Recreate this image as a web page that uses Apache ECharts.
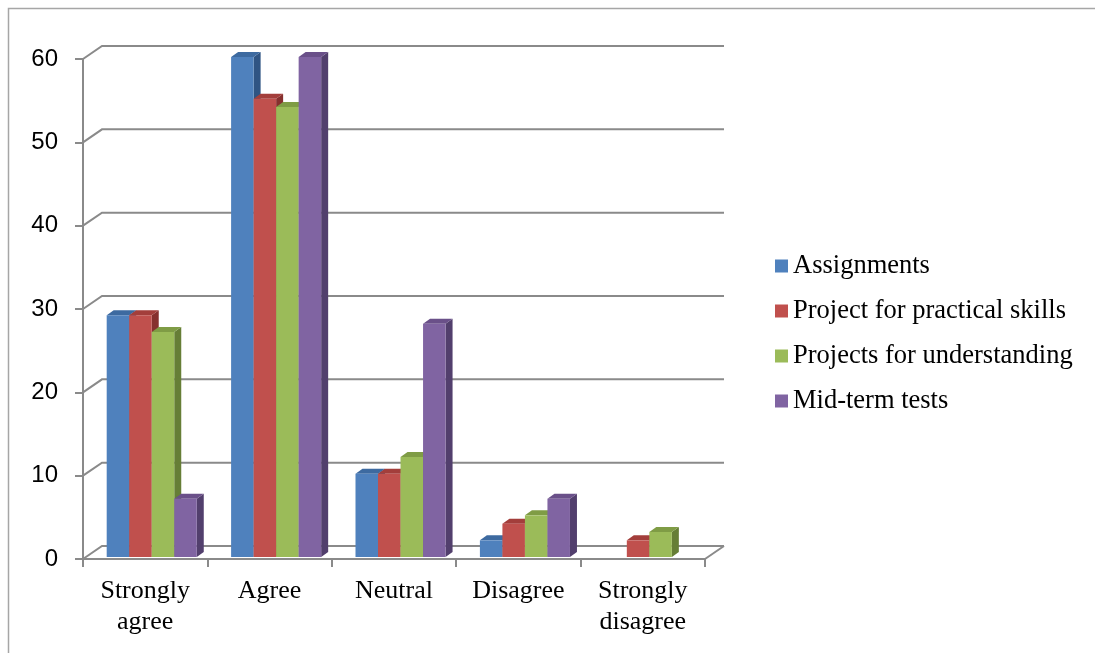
<!DOCTYPE html>
<html>
<head>
<meta charset="utf-8">
<script src="https://cdn.jsdelivr.net/npm/echarts@6/dist/echarts.min.js"></script>
<style>
  html, body { margin: 0; padding: 0; background: #ffffff; }
  #chart { width: 1095px; height: 653px; }
</style>
</head>
<body>
<div id="chart"></div>
<script>
// Survey answers per assessment type
const categories = ['Strongly\nagree', 'Agree', 'Neutral', 'Disagree', 'Strongly\ndisagree'];
const seriesNames = ['Assignments', 'Project for practical skills', 'Projects for understanding', 'Mid-term tests'];
const assignments = [29, 60, 10, 2, 0];
const practicalSkills = [29, 55, 10, 4, 2];
const understanding = [27, 54, 12, 5, 3];
const midTermTests = [7, 60, 28, 7, 0];
const yTicks = [0, 10, 20, 30, 40, 50, 60];

// face colours: front, top, side
const palette = [
  ['#4F81BD', '#3D6AA0', '#2F5483'],
  ['#C0504D', '#A33E3B', '#86302E'],
  ['#9BBB59', '#7F9C45', '#667E36'],
  ['#8064A2', '#6A5089', '#523F6D']
];

// depth of the wall/floor and of each column
const WALL_DX = 19, WALL_DY = -13;
const BAR_DX = 7, BAR_DY = -5;
const LINE = '#8a8a8a';

function barSeries(name, values, idx) {
  const c = palette[idx];
  return {
    name: name,
    type: 'custom',
    z: 3,
    itemStyle: { color: c[0] },
    data: values.map((v, i) => [i, v]),
    encode: { x: 0, y: 1 },
    renderItem: function (params, api) {
      const v = api.value(1);
      if (!v) return null;
      const band = api.size([1, 0])[0];
      const center = api.coord([api.value(0), 0]);
      const topPt = api.coord([api.value(0), v]);
      const w = band * 0.181;
      const left = center[0] - band * 0.3095 + idx * w;
      const bottom = center[1] - 2;
      const top = topPt[1] - 2;
      const right = left + w;
      return {
        type: 'group',
        children: [
          { type: 'polygon', shape: { points: [[right, top], [right + BAR_DX, top + BAR_DY], [right + BAR_DX, bottom + BAR_DY], [right, bottom]] },
            style: { fill: c[2] } },
          { type: 'polygon', shape: { points: [[left, top], [left + BAR_DX, top + BAR_DY], [right + BAR_DX, top + BAR_DY], [right, top]] },
            style: { fill: c[1] } },
          { type: 'rect', shape: { x: left, y: top, width: w, height: bottom - top },
            style: { fill: c[0] } }
        ]
      };
    }
  };
}

// back wall gridlines, side-wall diagonals and floor edge
const wallSeries = {
  type: 'custom',
  silent: true,
  z: 1,
  data: yTicks.map(t => [0, t]),
  encode: { x: 0, y: 1 },
  renderItem: function (params, api) {
    const cs = params.coordSys;
    const y = api.coord([0, api.value(1)])[1];
    const x0 = cs.x, x1 = cs.x + cs.width;
    const children = [
      { type: 'polyline', shape: { points: [[x0, y], [x0 + WALL_DX, y + WALL_DY], [x1 + WALL_DX, y + WALL_DY]] },
        style: { stroke: LINE, lineWidth: 2, fill: null } }
    ];
    if (api.value(1) === 0) {
      children.push({ type: 'line', shape: { x1: x1, y1: y, x2: x1 + WALL_DX, y2: y + WALL_DY },
        style: { stroke: LINE, lineWidth: 2 } });
    }
    return { type: 'group', children: children };
  }
};

const chart = echarts.init(document.getElementById('chart'));
chart.setOption({
  animation: false,
  backgroundColor: '#ffffff',
  graphic: [{
    type: 'rect', z: 0, silent: true,
    shape: { x: 8.5, y: 8.5, width: 1120, height: 700 },
    style: { fill: null, stroke: '#a6a6a6', lineWidth: 1.5 }
  }],
  grid: { left: 83, top: 59, width: 622, height: 500, containLabel: false },
  legend: {
    orient: 'vertical',
    left: 775,
    top: 251,
    padding: 0,
    itemWidth: 13,
    itemHeight: 13,
    itemGap: 15,
    icon: 'rect',
    data: seriesNames,
    textStyle: { fontFamily: 'Liberation Serif', fontSize: 26.5, color: '#000', lineHeight: 30 }
  },
  xAxis: {
    type: 'category',
    data: categories,
    boundaryGap: true,
    axisLine: { lineStyle: { color: LINE, width: 2 } },
    axisTick: { show: true, length: 8, lineStyle: { color: LINE, width: 2 } },
    axisLabel: { fontFamily: 'Liberation Serif', fontSize: 26, lineHeight: 31, color: '#000', margin: 17, interval: 0 },
    splitLine: { show: false }
  },
  yAxis: {
    type: 'value',
    min: 0, max: 60, interval: 10,
    axisLine: { show: true, lineStyle: { color: LINE, width: 2 } },
    axisTick: { show: true, length: 8, lineStyle: { color: LINE, width: 2 } },
    axisLabel: { fontFamily: 'Liberation Sans', fontSize: 24, color: '#000', margin: 25 },
    splitLine: { show: false }
  },
  series: [
    wallSeries,
    barSeries(seriesNames[0], assignments, 0),
    barSeries(seriesNames[1], practicalSkills, 1),
    barSeries(seriesNames[2], understanding, 2),
    barSeries(seriesNames[3], midTermTests, 3)
  ]
});
</script>
</body>
</html>
